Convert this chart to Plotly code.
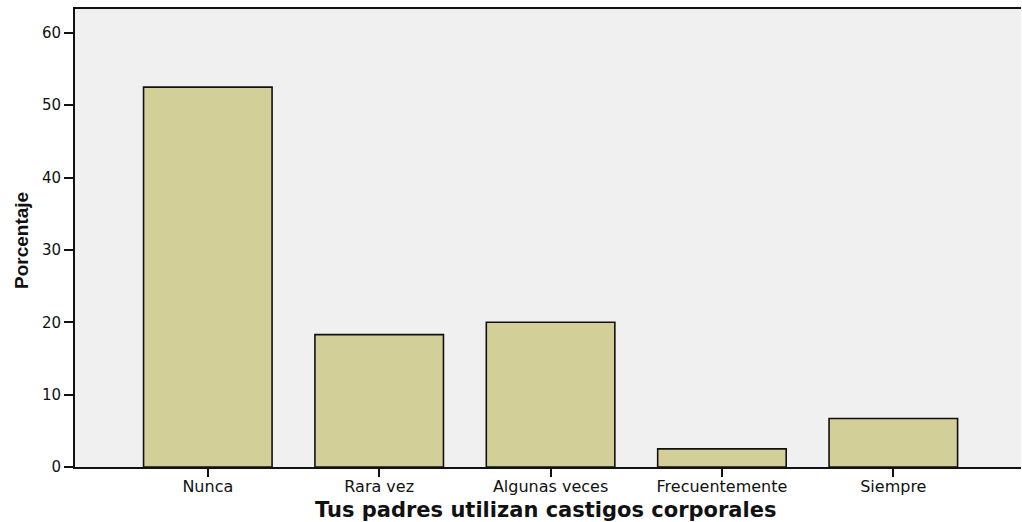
import plotly.graph_objects as go

categories = ["Nunca", "Rara vez", "Algunas veces", "Frecuentemente", "Siempre"]
percentages = [52.5, 18.3, 20.0, 2.5, 6.7]
y_ticks = [0, 10, 20, 30, 40, 50, 60]

fig = go.Figure()
fig.add_trace(go.Bar(
    x=list(range(len(categories))),
    y=percentages,
    width=0.75,
    marker=dict(color="#d3cf98", line=dict(color="#111111", width=1.6)),
    hoverinfo="y",
))

fig.update_layout(
    width=1022, height=522,
    margin=dict(l=75, r=1, t=9, b=55, autoexpand=False),
    paper_bgcolor="white",
    plot_bgcolor="#f0f0f0",
    showlegend=False,
    font=dict(family="DejaVu Sans, Liberation Sans, Arial, sans-serif", color="#111111"),
    xaxis=dict(
        tickmode="array",
        tickvals=list(range(len(categories))),
        ticktext=categories,
        range=[-0.775, 4.745],
        showline=True, linecolor="#111111", linewidth=2, mirror=True,
        ticks="outside", ticklen=8, tickwidth=2, tickcolor="#111111",
        tickfont=dict(size=16), ticklabelstandoff=-4,
        showgrid=False, zeroline=False, automargin=False,
    ),
    yaxis=dict(
        tickmode="array",
        tickvals=y_ticks,
        range=[0, 63.3],
        showline=True, linecolor="#111111", linewidth=2,
        ticks="outside", ticklen=9, tickwidth=2, tickcolor="#111111",
        tickfont=dict(size=15),
        showgrid=False, zeroline=False, automargin=False,
    ),
    annotations=[
        dict(text="<b>Tus padres utilizan castigos corporales</b>",
             xref="paper", yref="paper", x=(545 - 75) / 946, y=-(510 - 467) / 458,
             xanchor="center", yanchor="middle", showarrow=False,
             font=dict(size=21, family="DejaVu Sans, sans-serif")),
        dict(text="<b>Porcentaje</b>",
             xref="paper", yref="paper", x=-(75 - 21) / 946, y=(467 - 241) / 458,
             xanchor="center", yanchor="middle", showarrow=False, textangle=-90,
             font=dict(size=19, family="Liberation Sans, Arial, sans-serif")),
    ],
)

fig.write_html("out.html",
               config={"displayModeBar": False},
               post_script="document.body.style.margin='0';document.body.style.overflow='hidden';")
